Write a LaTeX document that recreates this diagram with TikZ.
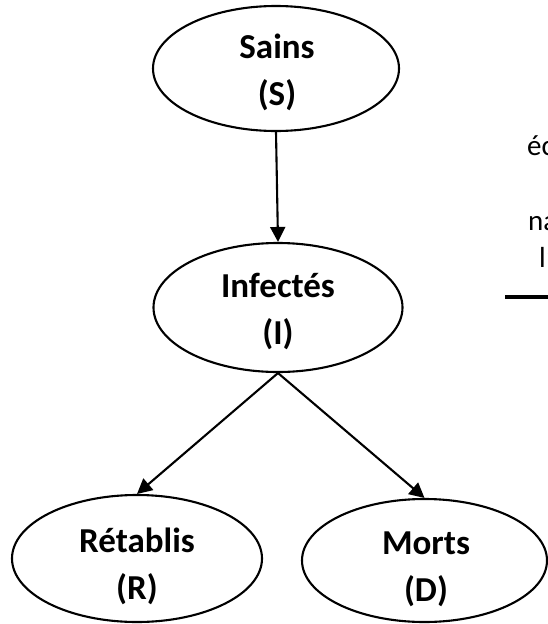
\documentclass[tikz,border=0pt]{standalone}
\usepackage{fontspec}
\setmainfont{Carlito}
\usetikzlibrary{shapes.geometric,arrows.meta}

\tikzset{
  compartment/.style={ellipse, draw, line width=2.1pt, inner sep=0pt},
  lbl/.style={font=\bfseries\fontsize{35}{47}\selectfont, align=center, inner sep=0pt},
  sidetext/.style={font=\fontsize{29}{34}\selectfont, anchor=base west, inner sep=0pt},
  flow/.style={line width=2.1pt, -{Triangle[length=15pt,width=15pt]}}
}

\begin{document}
\begin{tikzpicture}[x=1pt,y=-1pt]
  \clip (0,0) rectangle (548,624);
  \fill[white] (0,0) rectangle (548,624);

  % compartments of the model
  \node[compartment, minimum width=246pt, minimum height=125pt] (S) at (276,68.5) {};
  \node[compartment, minimum width=249pt, minimum height=129pt] (I) at (278,307.5) {};
  \node[compartment, minimum width=250pt, minimum height=127pt] (R) at (137,558.5) {};
  \node[compartment, minimum width=245pt, minimum height=123pt] (D) at (424.5,560.5) {};

  % their names
  \node[lbl] (Slbl) at (277,72) {Sains\\(S)};
  \node[lbl] (Ilbl) at (278,311) {Infectés\\(I)};
  \node[lbl] (Rlbl) at (137,566) {Rétablis\\(R)};
  \node[lbl] (Dlbl) at (426,569) {Morts\\(D)};

  % transitions
  \draw[flow] (S.south) -- (I.north);
  \draw[flow] (I.south) -- (R.north);
  \draw[flow] (I.south) -- (D.north);

  % text running in from the right
  \node[sidetext] (t1) at (527,155) {éc};
  \node[sidetext] (t2) at (528,230) {na};
  \node[sidetext] (t3) at (539,267) {l’};
  \coordinate (barL) at (505,297);
  \coordinate (barR) at (560,297);
  \draw[line width=4pt] (barL) -- (barR);
\end{tikzpicture}
\end{document}
